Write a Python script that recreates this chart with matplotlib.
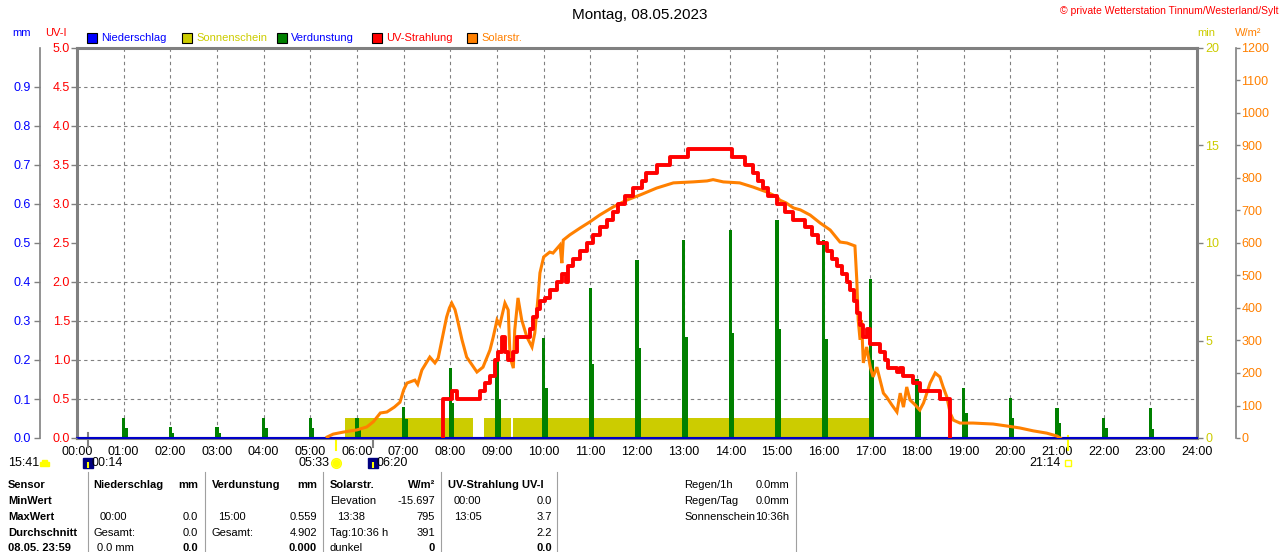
import matplotlib
matplotlib.use('Agg')
import matplotlib.pyplot as plt
import matplotlib.transforms as mtransforms
from matplotlib.patches import Rectangle
from matplotlib.ticker import MultipleLocator, FixedLocator
import numpy as np

# --- Daten ---------------------------------------------------------------
hours = list(range(25))
hour_labels = [f"{h:02d}:00" for h in hours]

# Niederschlag (mm) - den ganzen Tag 0
rain_t = [0, 24]
rain_mm = [0.0, 0.0]

# Sonnenschein (min) - Intervalle
sun_start = [5.74, 8.73, 9.35]
sun_end = [8.48, 9.31, 16.98]
sun_min = [1.05, 1.05, 1.05]

# Verdunstung (mm) - stündliche Balken
evap_h = list(range(1, 24))
evap_top = [0.051, 0.028, 0.028, 0.051, 0.051, 0.051, 0.079, 0.179, 0.205, 0.256, 0.385, 0.456,
            0.508, 0.533, 0.559, 0.508, 0.408, 0.151, 0.128, 0.103, 0.077, 0.051, 0.077]
evap_low = [0.026, 0.013, 0.013, 0.026, 0.026, 0.026, 0.050, 0.090, 0.100, 0.128, 0.190, 0.230,
            0.260, 0.270, 0.280, 0.254, 0.200, 0.077, 0.064, 0.051, 0.038, 0.026, 0.023]

# UV-Strahlung (UV-I), Stufen
uv_t = [7.85, 7.85, 8.03, 8.14, 8.64, 8.74, 8.85, 8.95, 9.03, 9.10, 9.17, 9.24, 9.35, 9.42,
        9.71, 9.78, 9.85, 9.92, 10.03, 10.14, 10.28, 10.39, 10.47, 10.52, 10.63, 10.78, 10.92,
        11.06, 11.20, 11.35, 11.49, 11.60, 11.74, 11.92, 12.10, 12.20, 12.42, 12.71, 13.10,
        14.03, 14.31, 14.49, 14.60, 14.70, 14.80, 15.00, 15.17, 15.35, 15.60, 15.75, 15.88,
        16.07, 16.18, 16.28, 16.39, 16.50, 16.56, 16.64, 16.71, 16.78, 16.85, 16.92, 17.00,
        17.20, 17.31, 17.38, 17.57, 17.64, 17.71, 17.92, 18.06, 18.49, 18.71]
uv_val = [0.0, 0.5, 0.6, 0.5, 0.6, 0.7, 0.8, 1.0, 1.1, 1.3, 1.1, 1.0, 1.1, 1.3,
          1.4, 1.55, 1.65, 1.75, 1.8, 1.9, 2.0, 2.1, 2.0, 2.2, 2.3, 2.4, 2.5,
          2.6, 2.7, 2.8, 2.9, 3.0, 3.1, 3.2, 3.3, 3.4, 3.5, 3.6, 3.7,
          3.6, 3.5, 3.4, 3.3, 3.2, 3.1, 3.0, 2.9, 2.8, 2.7, 2.6, 2.5,
          2.4, 2.3, 2.2, 2.1, 2.0, 1.9, 1.75, 1.6, 1.45, 1.3, 1.4, 1.2,
          1.1, 1.0, 0.9, 0.85, 0.9, 0.8, 0.7, 0.6, 0.5, 0.0]

# Solarstrahlung (W/m²)
sol_t = [5.36, 5.49, 5.70, 6.00, 6.21, 6.35, 6.50, 6.64, 6.80, 6.92, 7.00, 7.07, 7.24, 7.30,
         7.39, 7.56, 7.67, 7.74, 7.85, 7.92, 7.98, 8.03, 8.10, 8.14, 8.25, 8.35, 8.57, 8.70,
         8.85, 8.92, 9.00, 9.06, 9.17, 9.24, 9.28, 9.35, 9.38, 9.45, 9.53, 9.64, 9.75, 9.81,
         9.88, 9.92, 10.00, 10.13, 10.20, 10.35, 10.39, 10.42, 10.56, 10.78, 10.99, 11.20,
         11.49, 11.78, 12.07, 12.42, 12.78, 13.20, 13.50, 13.63, 13.85, 14.20, 14.49, 14.78,
         15.00, 15.06, 15.20, 15.35, 15.50, 15.71, 15.92, 16.14, 16.35, 16.50, 16.67, 16.71,
         16.74, 16.78, 16.81, 16.85, 16.92, 17.00, 17.06, 17.14, 17.21, 17.28, 17.35, 17.46,
         17.57, 17.64, 17.71, 17.78, 17.85, 17.96, 18.06, 18.14, 18.21, 18.28, 18.39, 18.49,
         18.56, 18.64, 18.71, 18.78, 18.92, 19.20, 19.63, 19.92, 20.20, 20.49, 20.78, 21.00,
         21.07]
sol_w = [3, 12, 18, 25, 34, 50, 77, 80, 95, 110, 148, 169, 178, 165,
         209, 249, 231, 246, 323, 372, 400, 415, 395, 372, 302, 249, 203, 218,
         271, 311, 363, 348, 415, 394, 249, 215, 332, 431, 363, 311, 280, 323,
         434, 508, 557, 572, 569, 594, 538, 609, 625, 646, 665, 686,
         711, 732, 748, 769, 785, 788, 791, 795, 788, 785, 772, 757,
         742, 732, 723, 708, 702, 686, 662, 640, 603, 600, 591, 486,
         363, 302, 363, 231, 280, 218, 188, 218, 178, 138, 126, 102,
         80, 138, 95, 157, 117, 102, 86, 108, 138, 169, 200, 188,
         157, 126, 77, 55, 46, 46, 43, 37, 31, 22, 15, 6,
         0]

# Sonne / Mond
event_h = [0.233, 5.55, 6.333, 21.233]
event_lbl = ["00:14", "05:33", "06:20", "21:14"]

# Tabelle
table_rows = ["Sensor", "MinWert", "MaxWert", "Durchschnitt", "08.05. 23:59"]

# --- Figur ---------------------------------------------------------------
W, H = 1280, 552
fig = plt.figure(figsize=(W / 100, H / 100), dpi=100)
plt.rcParams['font.family'] = ['Liberation Sans', 'DejaVu Sans']
NARROW = ['Liberation Sans Narrow', 'Liberation Sans', 'DejaVu Sans']
pxt = mtransforms.Affine2D().scale(1 / 100, -1 / 100).translate(0, H / 100) + fig.dpi_scale_trans

GRAY = '#808080'
BLUE = '#0000FF'
RED = '#FF0000'
ORANGE = '#FF8000'
YEL = '#CCCC00'
GREEN = '#008000'
FS = 8

L, R, T, B = 77, 1197, 48, 438
ax = fig.add_axes([L / W, 1 - B / H, (R - L) / W, (B - T) / H])
ax.set_xlim(0, 24)
ax.set_ylim(0, 20)

ax_mm = ax.twinx()
ax_w = ax.twinx()
ax_uv = ax.twinx()

# Sonnenschein
ax.bar(sun_start, sun_min, width=np.array(sun_end) - np.array(sun_start), align='edge',
       color=YEL, linewidth=0)

# Grid (alle 2 min = 0.5 UV-I)
ax.set_xticks(hours)
ax.set_xticklabels(hour_labels, family=NARROW, fontsize=9)
ax.yaxis.set_major_locator(FixedLocator([0, 5, 10, 15, 20]))
ax.yaxis.set_minor_locator(MultipleLocator(2))
ax.grid(True, axis='x', which='major', color=GRAY, linestyle=(0, (3, 3)), linewidth=0.8)
ax.grid(True, axis='y', which='minor', color=GRAY, linestyle=(0, (3, 3)), linewidth=0.8)
ax.grid(False, axis='y', which='major')
ax.set_axisbelow(True)
ax.tick_params(axis='x', length=0, pad=6, colors='black')
ax.tick_params(axis='y', which='minor', length=0)
for s in ['left', 'top', 'right', 'bottom']:
    ax.spines[s].set_color(GRAY)
    ax.spines[s].set_linewidth(2.2)

# Verdunstung + Niederschlag
ax_mm.set_ylim(0, 1.0)
ax_mm.bar(evap_h, evap_top, width=0.065, color=GREEN, linewidth=0)
ax_mm.bar(np.array(evap_h) + 0.06, evap_low, width=0.055, color=GREEN, linewidth=0)
ax_mm.plot(rain_t, rain_mm, color='#0000C8', linewidth=1.5, clip_on=False, zorder=5)

# Solar
ax_w.set_ylim(0, 1200)
ax_w.plot(sol_t, sol_w, color=ORANGE, linewidth=2.2, solid_joinstyle='miter')

# UV
ax_uv.set_ylim(0, 5)
ax_uv.step(uv_t, uv_val, where='post', color=RED, linewidth=2.8)

# Achsen: mm links aussen
ax_mm.yaxis.tick_left()
ax_mm.spines['left'].set_position(('outward', 27))
ax_mm.spines['left'].set_color(GRAY)
ax_mm.spines['left'].set_linewidth(1.2)
for s in ['right', 'top', 'bottom']:
    ax_mm.spines[s].set_visible(False)
ax_mm.set_yticks(np.arange(0, 10) / 10)
ax_mm.set_yticklabels([f"{v / 10:.1f}" for v in range(10)], family=NARROW, fontsize=9)
ax_mm.tick_params(axis='y', colors=GRAY, labelcolor=BLUE, length=4, width=1, pad=2)

# UV links innen
ax_uv.yaxis.tick_left()
for s in ['left', 'right', 'top', 'bottom']:
    ax_uv.spines[s].set_visible(False)
ax_uv.set_yticks(np.arange(0, 11) / 2)
ax_uv.set_yticklabels([f"{v / 2:.1f}" for v in range(11)], family=NARROW, fontsize=9)
ax_uv.tick_params(axis='y', colors=GRAY, labelcolor=RED, length=4, width=1, pad=1)

# W/m² rechts aussen
ax_w.spines['right'].set_position(('outward', 28))
ax_w.spines['right'].set_color(GRAY)
ax_w.spines['right'].set_linewidth(1.2)
for s in ['left', 'top', 'bottom']:
    ax_w.spines[s].set_visible(False)
ax_w.set_yticks(range(0, 1300, 100))
ax_w.set_yticklabels([str(v) for v in range(0, 1300, 100)], family=NARROW, fontsize=9)
ax_w.tick_params(axis='y', colors=GRAY, labelcolor=ORANGE, length=3, width=1, pad=1)

# min rechts innen
ax.yaxis.tick_right()
ax.set_yticklabels(["0", "5", "10", "15", "20"], family=NARROW, fontsize=9)
ax.tick_params(axis='y', which='major', colors=GRAY, labelcolor=YEL, length=4, width=1, pad=2)

# Markierungen Sonne / Mond an der Zeitachse
bt = mtransforms.blended_transform_factory(ax.transData, pxt)
ax.plot([event_h[0]] * 2, [433, 447], color=GRAY, lw=1.5, transform=bt, clip_on=False)
ax.plot([event_h[2]] * 2, [440, 447], color=GRAY, lw=1.5, transform=bt, clip_on=False)
ax.plot([event_h[1]] * 2, [440, 450], color='#FFFF00', lw=1.5, transform=bt, clip_on=False)
ax.plot([event_h[3]] * 2, [436, 450], color='#FFFF00', lw=1.5, transform=bt, clip_on=False)

# Symbole und Zeiten darunter
for h in (event_h[0], event_h[2]):
    ax.plot([h], [463], marker='s', ms=7, color='#000080', transform=bt, clip_on=False)
    ax.plot([h], [465], marker='|', ms=5, mew=1.5, color='#FFFF00', transform=bt, clip_on=False)
ax.plot([event_h[1]], [463], marker='o', ms=7, color='#FFFF60', mec='#FFFF00', transform=bt, clip_on=False)
ax.plot([event_h[1]], [463], marker='o', ms=4.5, color='#FFFF00', transform=bt, clip_on=False)
ax.plot([event_h[3]], [463], marker='s', ms=4, mfc='none', mec='#FFFF00', mew=1, transform=bt, clip_on=False)
ax.text(event_h[0] + 0.08, 463, event_lbl[0], transform=bt, ha='left', va='center', family=NARROW, fontsize=9)
ax.text(event_h[2] + 0.08, 463, event_lbl[2], transform=bt, ha='left', va='center', family=NARROW, fontsize=9)
ax.text(event_h[1] - 0.13, 463, event_lbl[1], transform=bt, ha='right', va='center', family=NARROW, fontsize=9)
ax.text(event_h[3] - 0.15, 463, event_lbl[3], transform=bt, ha='right', va='center', family=NARROW, fontsize=9)
fig.text(8, 463, "15:41", transform=pxt, ha='left', va='center', family=NARROW, fontsize=9)
fig.patches.append(Rectangle((40, 462), 9, 4, transform=pxt, color='#FFFF00', figure=fig))
fig.patches.append(Rectangle((42, 460), 5, 3, transform=pxt, color='#FFFF00', figure=fig))

# Titel
fig.text(640, 15, "Montag, 08.05.2023", transform=pxt, ha='center', va='center', fontsize=11)
fig.text(1278, 11, "© private Wetterstation Tinnum/Westerland/Sylt", transform=pxt,
         ha='right', va='center', fontsize=7.5, color=RED, family=NARROW)

# Einheiten
fig.text(22, 33, "mm", transform=pxt, ha='center', va='center', fontsize=FS, color=BLUE)
fig.text(56, 33, "UV-I", transform=pxt, ha='center', va='center', fontsize=FS, color=RED)
fig.text(1206, 33, "min", transform=pxt, ha='center', va='center', fontsize=FS, color=YEL)
fig.text(1248, 33, "W/m²", transform=pxt, ha='center', va='center', fontsize=FS, color=ORANGE)

# Legende
leg_names = ["Niederschlag", "Sonnenschein", "Verdunstung", "UV-Strahlung", "Solarstr."]
leg_fill = [BLUE, YEL, GREEN, RED, ORANGE]
leg_text = [BLUE, YEL, BLUE, RED, ORANGE]
leg_x = [87, 182, 277, 372, 467]
for name, fc, tc, x in zip(leg_names, leg_fill, leg_text, leg_x):
    fig.patches.append(Rectangle((x, 33), 10, 10, transform=pxt, facecolor=fc,
                                 edgecolor='black', linewidth=0.8, figure=fig))
    fig.text(x + 14, 38, name, transform=pxt, ha='left', va='center', fontsize=FS, color=tc)

# Tabelle
row_y = [485, 501, 517, 533, 548]
for y, lbl in zip(row_y, table_rows):
    fig.text(8, y, lbl, transform=pxt, ha='left', va='center', fontsize=FS, fontweight='bold')

for x in [88, 205, 323, 441, 557, 796]:
    fig.add_artist(plt.Line2D([x, x], [472, 552], transform=pxt, color='#A0A0A0', lw=0.8))

cells = [
    # (x, y, text, ha, bold)
    (93, 485, "Niederschlag", 'left', True), (198, 485, "mm", 'right', True),
    (100, 517, "00:00", 'left', False), (198, 517, "0.0", 'right', False),
    (93, 533, "Gesamt:", 'left', False), (198, 533, "0.0", 'right', False),
    (97, 548, "0.0 mm", 'left', False), (198, 548, "0.0", 'right', True),
    (212, 485, "Verdunstung", 'left', True), (317, 485, "mm", 'right', True),
    (218, 517, "15:00", 'left', False), (317, 517, "0.559", 'right', False),
    (212, 533, "Gesamt:", 'left', False), (317, 533, "4.902", 'right', False),
    (317, 548, "0.000", 'right', True),
    (330, 485, "Solarstr.", 'left', True), (435, 485, "W/m²", 'right', True),
    (330, 501, "Elevation", 'left', False), (435, 501, "-15.697", 'right', False),
    (337, 517, "13:38", 'left', False), (435, 517, "795", 'right', False),
    (330, 533, "Tag:10:36 h", 'left', False), (435, 533, "391", 'right', False),
    (330, 548, "dunkel", 'left', False), (435, 548, "0", 'right', True),
    (448, 485, "UV-Strahlung UV-I", 'left', True),
    (454, 501, "00:00", 'left', False), (552, 501, "0.0", 'right', False),
    (454, 517, "13:05", 'left', False), (552, 517, "3.7", 'right', False),
    (552, 533, "2.2", 'right', False), (552, 548, "0.0", 'right', True),
    (684, 485, "Regen/1h", 'left', False), (789, 485, "0.0mm", 'right', False),
    (684, 501, "Regen/Tag", 'left', False), (789, 501, "0.0mm", 'right', False),
    (684, 517, "Sonnenschein", 'left', False), (789, 517, "10:36h", 'right', False),
]
for x, y, txt, ha, bold in cells:
    fig.text(x, y, txt, transform=pxt, ha=ha, va='center', fontsize=FS,
             fontweight='bold' if bold else 'normal')

fig.savefig('out.png', dpi=100, facecolor='white')
